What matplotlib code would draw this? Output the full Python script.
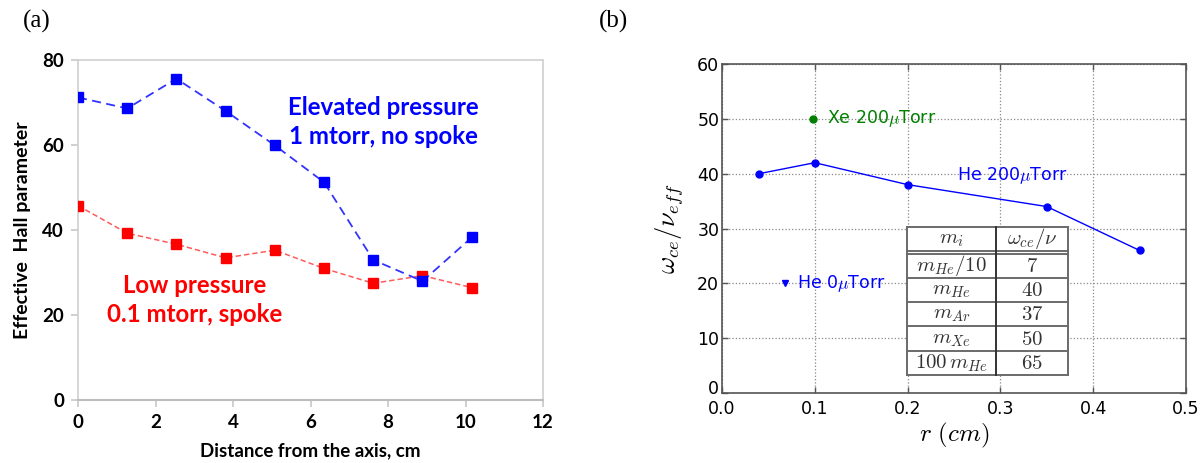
import matplotlib
matplotlib.use("Agg")
import matplotlib.pyplot as plt
from matplotlib.lines import Line2D
from matplotlib.transforms import ScaledTranslation

plt.rcParams['mathtext.fontset'] = 'cm'

# ---------------- data: panel (a) ----------------
dist_cm = [0.0, 1.27, 2.54, 3.81, 5.08, 6.35, 7.62, 8.89, 10.16]
hall_elevated = [71.3, 68.7, 75.7, 68.1, 60.0, 51.3, 33.0, 28.0, 38.3]
hall_low = [45.8, 39.3, 36.7, 33.5, 35.3, 31.0, 27.5, 29.3, 26.5]
a_xticks = [0, 2, 4, 6, 8, 10, 12]
a_yticks = [0, 20, 40, 60, 80]

# ---------------- data: panel (b) ----------------
r_he200 = [0.04, 0.10, 0.20, 0.35, 0.45]
w_he200 = [40, 42, 38, 34, 26]
r_xe200 = [0.098]
w_xe200 = [50]
r_he0 = [0.068]
w_he0 = [20]
b_xticks = [0.0, 0.1, 0.2, 0.3, 0.4, 0.5]
b_yticks = [0, 10, 20, 30, 40, 50, 60]
table_header = [r'$m_i$', r'$\omega_{ce}/\nu$']
table_mass = [r'$m_{He}/10$', r'$m_{He}$', r'$m_{Ar}$', r'$m_{Xe}$', r'$100\,m_{He}$']
table_ratio = ['7', '40', '37', '50', '65']

fig = plt.figure(figsize=(12.03, 4.63), dpi=100)

# ================= panel (a) =================
ax1 = fig.add_axes([78/1203, 1-400/463, 465/1203, 339.5/463])
ax1.plot(dist_cm, hall_low, color='#ff5a5a', ls=(0, (3.5, 2)), lw=1.1,
         marker='s', ms=6.5, mfc='#ff0000', mec='#ff0000', zorder=3)
ax1.plot(dist_cm, hall_elevated, color='#3333ff', ls=(0, (5, 3)), lw=1.3,
         marker='s', ms=6.5, mfc='#0000ff', mec='#0000ff', zorder=4)
ax1.set_xlim(0, 12)
ax1.set_ylim(0, 80)
ax1.set_xticks(a_xticks)
ax1.set_yticks(a_yticks)
for s in ['top', 'right', 'left']:
    ax1.spines[s].set_color('#d0d0d0')
    ax1.spines[s].set_linewidth(1.2)
ax1.spines['bottom'].set_color('#bdbdbd')
ax1.spines['bottom'].set_linewidth(1.5)
ax1.tick_params(axis='both', direction='out', length=5, width=1.2,
                color='#c8c8c8', labelsize=13.5, pad=5)
for lab in ax1.get_xticklabels() + ax1.get_yticklabels():
    lab.set_fontweight('bold')
    lab.set_family('Lato')
ax1.set_xlabel('Distance from the axis, cm', fontsize=13.5, fontweight='bold',
               family='Lato', labelpad=8)
ax1.set_ylabel('Effective  Hall parameter', fontsize=14, fontweight='bold',
               family='Lato', labelpad=8)
ax1.text(7.87, 65.5, 'Elevated pressure\n1 mtorr, no spoke', color='#0000ff',
         fontsize=17.3, fontweight='bold', family='Lato', ha='center',
         va='center', linespacing=1.3)
ax1.text(3.02, 23.5, 'Low pressure\n0.1 mtorr, spoke', color='#ff0000',
         fontsize=17.3, fontweight='bold', family='Lato', ha='center',
         va='center', linespacing=1.3)

fig.text(37/1203, 1-21/463, '(a)', family='Liberation Serif', fontsize=18,
         ha='center', va='center')
fig.text(613/1203, 1-21/463, '(b)', family='Liberation Serif', fontsize=18,
         ha='center', va='center')

# ================= panel (b) =================
ax2 = fig.add_axes([722/1203, 1-393/463, 464/1203, 329/463])
ax2.plot(r_he200, w_he200, color='#0000ff', lw=1.0, marker='o', ms=5,
         mfc='#0000ff', mec='#0000ff', zorder=3)
ax2.plot(r_xe200, w_xe200, ls='none', marker='o', ms=5, color='#007f00',
         zorder=3)
ax2.plot(r_he0, w_he0, ls='none', marker='v', ms=5, color='#0000ff', zorder=3)
ax2.text(0.113, 50, r'Xe 200$\mu$Torr', color='#007f00', fontsize=12.5,
         va='center', ha='left')
ax2.text(0.253, 39.6, r'He 200$\mu$Torr', color='#0000ff', fontsize=12.5,
         va='center', ha='left')
ax2.text(0.081, 19.9, r'He 0$\mu$Torr', color='#0000ff', fontsize=12.5,
         va='center', ha='left')
ax2.set_xlim(0, 0.5)
ax2.set_ylim(0, 60)
ax2.set_xticks(b_xticks)
ax2.set_yticks(b_yticks)
ax2.set_xticklabels(['%.1f' % v for v in b_xticks])
ax2.grid(True, ls=':', color='#888888', lw=0.9)
for s in ax2.spines.values():
    s.set_color('#555555')
    s.set_linewidth(1.2)
ax2.tick_params(axis='both', direction='in', length=4, width=1,
                top=True, right=True, labelsize=12.5, pad=2, color='#555555')
ax2.tick_params(axis='x', pad=5)
ax2.set_xlabel(r'$r\ (cm)$', fontsize=18, labelpad=2)
ax2.set_ylabel(r'$\omega_{ce}/\nu_{eff}$', fontsize=19, labelpad=8)
# nudge the y=0 label up a little so it doesn't collide with the x=0.0 label
ylab0 = ax2.get_yticklabels()[0]
ylab0.set_transform(ylab0.get_transform() +
                    ScaledTranslation(0, 4/72, fig.dpi_scale_trans))

# table drawn in axes fraction
tl, tr, tt, tb = 0.399, 0.746, 0.505, 0.055
tcol = 0.591
nrows = 1 + len(table_mass)
gap = 0.008
row_h = (tt - tb - gap) / nrows
lc = '#6a6a6a'
lw_t = 1.4
tr_ = ax2.transAxes
ax2.add_patch(plt.Rectangle((tl, tb), tr - tl, tt - tb, transform=tr_,
                            facecolor='white', edgecolor='none', zorder=4))
hy = [tt, tt - row_h, tt - row_h - gap]
for k in range(1, len(table_mass)):
    hy.append(tt - row_h - gap - k * row_h)
hy.append(tb)
for yv in hy:
    ax2.add_line(Line2D([tl, tr], [yv, yv], transform=tr_, color=lc,
                        lw=lw_t, zorder=5))
ax2.add_line(Line2D([tl, tl], [tb, tt], transform=tr_, color=lc, lw=lw_t,
                    zorder=5))
ax2.add_line(Line2D([tr, tr], [tb, tt], transform=tr_, color=lc, lw=lw_t,
                    zorder=5))
ax2.add_line(Line2D([tcol, tcol], [tb, tt], transform=tr_, color='#333333',
                    lw=lw_t, zorder=5))
c1 = (tl + tcol) / 2
c2 = (tcol + tr) / 2
ax2.text(c1, tt - row_h / 2, table_header[0], transform=tr_, ha='center',
         va='center', fontsize=15, color='#333333', zorder=6)
ax2.text(c2, tt - row_h / 2, table_header[1], transform=tr_, ha='center',
         va='center', fontsize=15, color='#333333', zorder=6)
for i, (m, v) in enumerate(zip(table_mass, table_ratio)):
    yc = tt - row_h - gap - (i + 0.5) * row_h
    ax2.text(c1, yc, m, transform=tr_, ha='center', va='center',
             fontsize=15, color='#333333', zorder=6)
    ax2.text(c2, yc, '$' + v + '$', transform=tr_, ha='center', va='center',
             fontsize=15, color='#333333', zorder=6)

fig.savefig('out.png', dpi=100)
